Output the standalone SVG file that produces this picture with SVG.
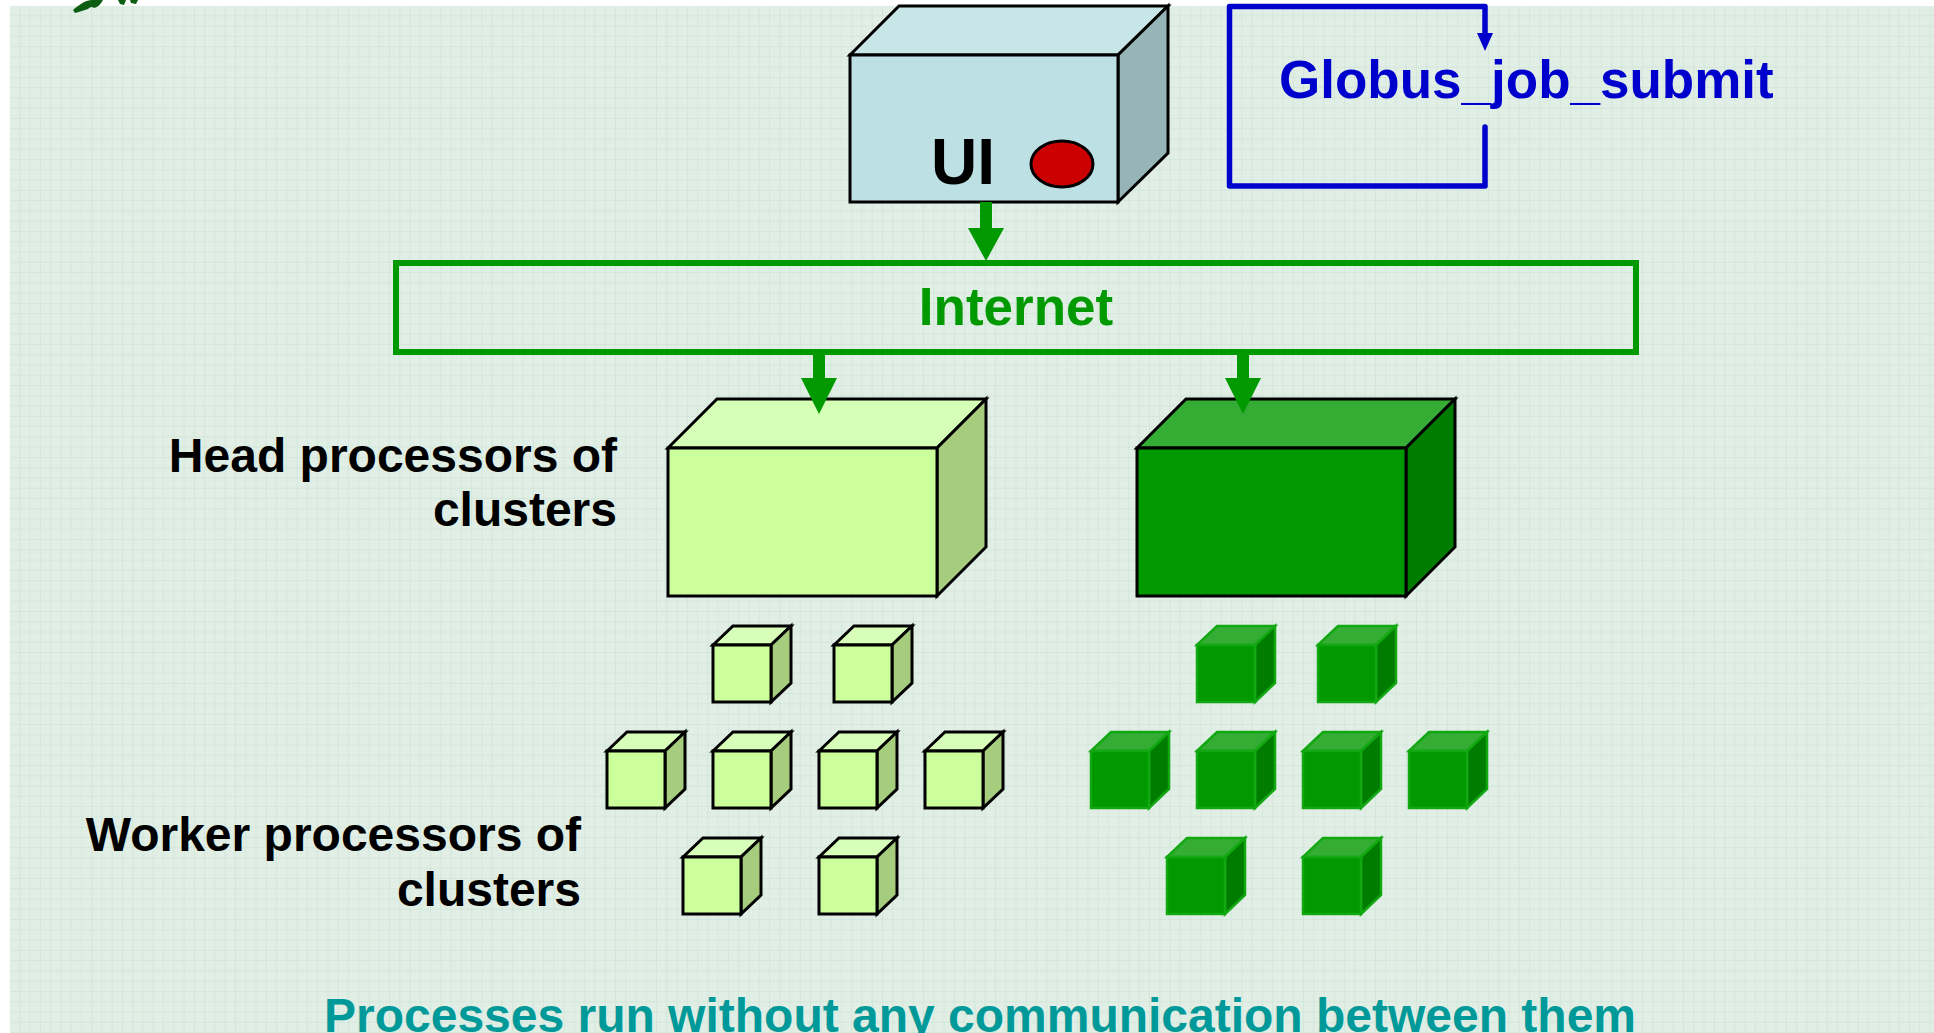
<svg xmlns="http://www.w3.org/2000/svg" xmlns:xlink="http://www.w3.org/1999/xlink" width="1934" height="1033" viewBox="0 0 1934 1033">
<defs>
<pattern id="grid" x="10" y="6" width="10.27" height="10.27" patternUnits="userSpaceOnUse">
<rect width="10.27" height="10.27" fill="#e0eee5"/>
<path d="M10.27 0V10.27M0 10.27H10.27" stroke="#c9e1d2" stroke-width="1" fill="none"/>
<rect x="5" y="5" width="1" height="1" fill="#f2f8f4"/>
</pattern>
<g id="cubeL" stroke="#000" stroke-width="3" stroke-linejoin="miter">
<polygon points="0,0 20,-19 78,-19 58,0" fill="#d8ffba"/>
<polygon points="58,0 78,-19 78,38 58,57" fill="#a6cc7e"/>
<rect x="0" y="0" width="58" height="57" fill="#ccff9c"/>
</g>
<g id="cubeD" stroke="#12a812" stroke-width="2.5" stroke-linejoin="miter">
<polygon points="0,0 20,-19 78,-19 58,0" fill="#35ad35"/>
<polygon points="58,0 78,-19 78,38 58,57" fill="#007c00"/>
<rect x="0" y="0" width="58" height="57" fill="#009900"/>
</g>
</defs>
<style>
.lbl{font-family:"Liberation Sans",Arial,sans-serif;font-weight:bold}
.box{stroke:#000;stroke-width:3;stroke-linejoin:miter}
.garrow{fill:#009900}
</style>
<rect width="1934" height="1033" fill="#ffffff"/>
<rect x="10" y="6" width="1924" height="1027" fill="url(#grid)"/>
<path d="M73,10 C80,4 86,0 92,0 L103,0 C101,4 98,7 94,8 C92,6 90,7 88,9 C84,10 80,12 75,13 Z M118,0 L126,0 L124,5 L120,4 Z M130,0 L138,0 L136,4 L131,3 Z" fill="#0b5e12"/>

<g id="ui">
<polygon class="box" points="850,55 899,6 1168,6 1118,55" fill="#c8e6e8"/>
<polygon class="box" points="1118,55 1168,6 1168,153 1118,202" fill="#97b4b6"/>
<rect class="box" x="850" y="55" width="268" height="147" fill="#bde0e4"/>
<text class="lbl" x="931" y="184" font-size="64" fill="#000">UI</text>
<ellipse cx="1062" cy="164" rx="31" ry="23" fill="#cc0000" stroke="#000" stroke-width="3"/>
</g>

<g id="globus">
<text class="lbl" x="1279" y="98" font-size="53" fill="#0000cc">Globus_job_submit</text>
</g>

<g id="internet">
<rect x="396" y="263" width="1240" height="89" fill="none" stroke="#009900" stroke-width="6"/>
<text class="lbl" x="1016" y="325" font-size="53" fill="#009900" text-anchor="middle">Internet</text>
</g>

<g id="head-left">
<polygon class="box" points="668,448 717,399 986,399 937,448" fill="#d6ffb6"/>
<polygon class="box" points="937,448 986,399 986,547 937,596" fill="#a6cc7e"/>
<rect class="box" x="668" y="448" width="269" height="148" fill="#ccff9c"/>
</g>

<g id="head-right">
<polygon class="box" points="1137,448 1186,399 1455,399 1406,448" fill="#35ad35"/>
<polygon class="box" points="1406,448 1455,399 1455,547 1406,596" fill="#007c00"/>
<rect class="box" x="1137" y="448" width="269" height="148" fill="#009900"/>
</g>

<g id="head-label">
<text class="lbl" font-size="48" fill="#000" text-anchor="end"><tspan x="617" y="472">Head processors of</tspan><tspan x="617" y="526">clusters</tspan></text>
</g>

<g id="worker-label">
<text class="lbl" font-size="48" fill="#000" text-anchor="end"><tspan x="581" y="851">Worker processors of</tspan><tspan x="581" y="906">clusters</tspan></text>
</g>

<g id="workers-left">
<use xlink:href="#cubeL" x="713" y="645"/>
<use xlink:href="#cubeL" x="834" y="645"/>
<use xlink:href="#cubeL" x="607" y="751"/>
<use xlink:href="#cubeL" x="713" y="751"/>
<use xlink:href="#cubeL" x="819" y="751"/>
<use xlink:href="#cubeL" x="925" y="751"/>
<use xlink:href="#cubeL" x="683" y="857"/>
<use xlink:href="#cubeL" x="819" y="857"/>
</g>

<g id="workers-right">
<use xlink:href="#cubeD" x="1197" y="645"/>
<use xlink:href="#cubeD" x="1318" y="645"/>
<use xlink:href="#cubeD" x="1091" y="751"/>
<use xlink:href="#cubeD" x="1197" y="751"/>
<use xlink:href="#cubeD" x="1303" y="751"/>
<use xlink:href="#cubeD" x="1409" y="751"/>
<use xlink:href="#cubeD" x="1167" y="857"/>
<use xlink:href="#cubeD" x="1303" y="857"/>
</g>

<g id="connectors">
<rect class="garrow" x="980" y="202" width="12" height="27"/>
<polygon class="garrow" points="968,228 1004,228 986,261"/>
<rect class="garrow" x="813" y="355" width="12" height="24"/>
<polygon class="garrow" points="801,378 837,378 819,414"/>
<rect class="garrow" x="1237" y="355" width="12" height="24"/>
<polygon class="garrow" points="1225,378 1261,378 1243,414"/>
<path d="M1485,127 V186 H1229.5 V6.5 H1485 V34" fill="none" stroke="#0000cc" stroke-width="5.5" stroke-linejoin="round" stroke-linecap="round"/>
<polygon points="1477,33 1493,33 1485,51" fill="#0000cc"/>
</g>

<g id="caption">
<text class="lbl" x="980" y="1032" font-size="48" fill="#009999" text-anchor="middle" textLength="1312" lengthAdjust="spacingAndGlyphs">Processes run without any communication between them</text>
</g>
</svg>
